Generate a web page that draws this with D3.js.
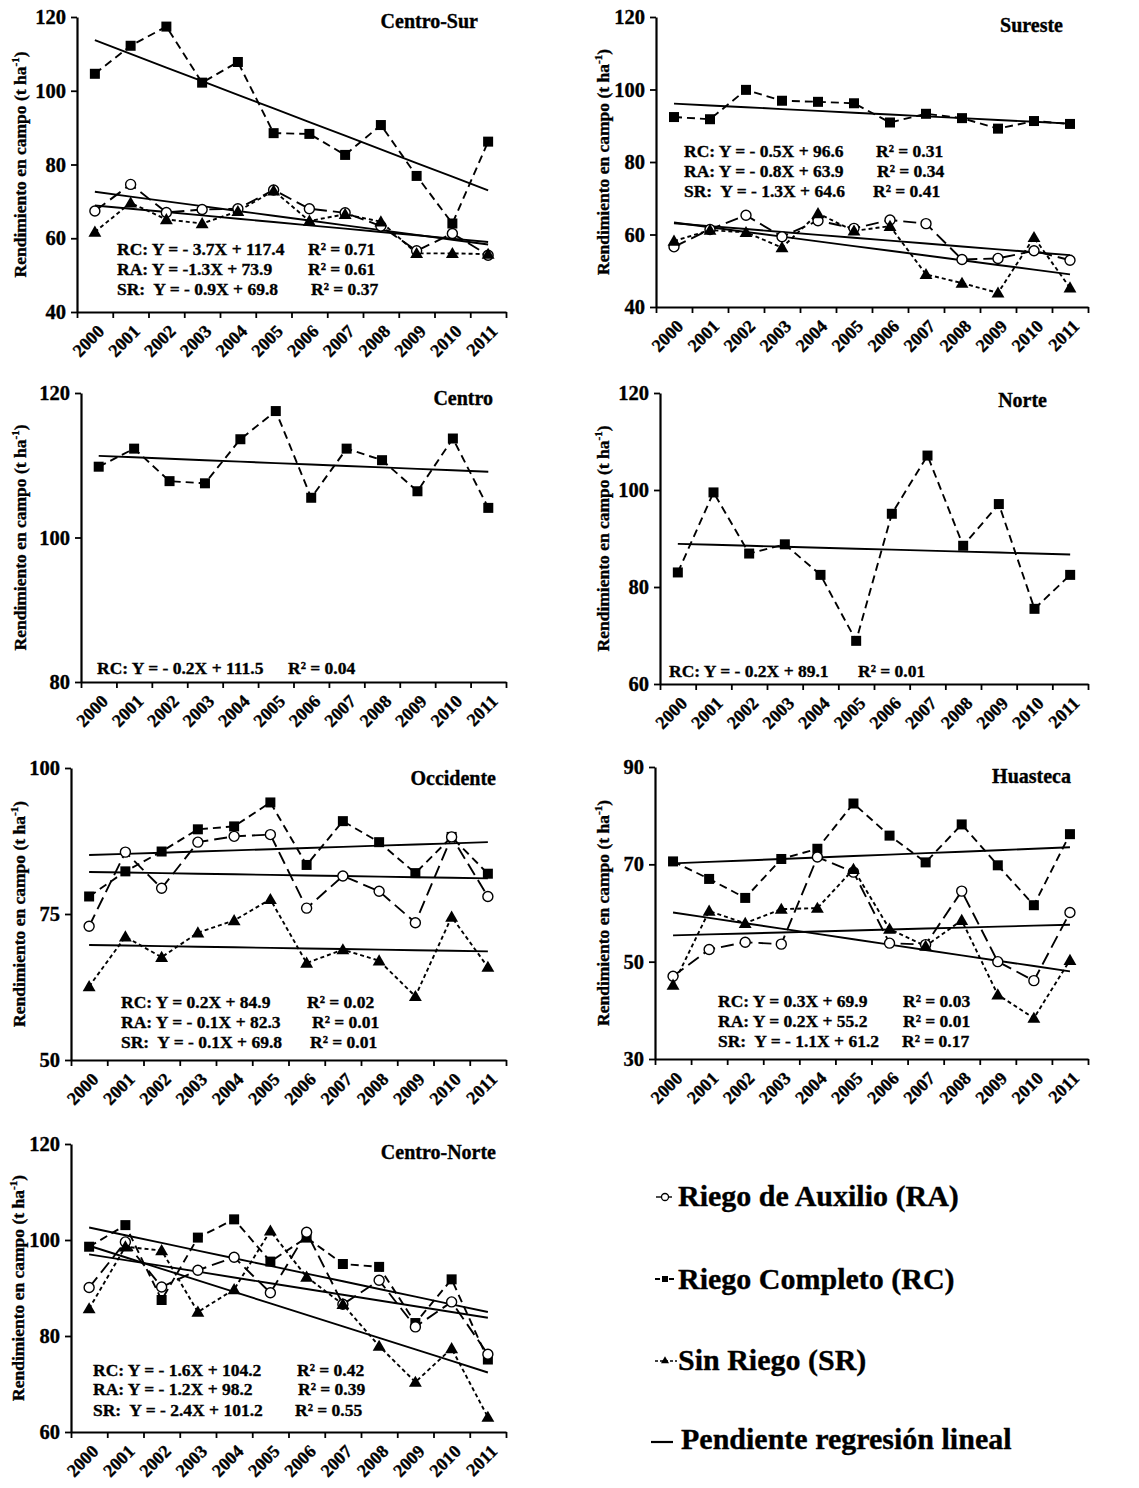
<!DOCTYPE html>
<html><head><meta charset="utf-8">
<script src="https://cdn.jsdelivr.net/npm/d3@7"></script>
<style>
body{margin:0;background:#fff}
svg text{font-family:"Liberation Serif","Times New Roman",serif;font-weight:bold;fill:#000;stroke:#000;stroke-width:0.35px}
</style></head><body>
<svg id="c" width="1139" height="1488"></svg>
<script>
const years = ["2000","2001","2002","2003","2004","2005","2006","2007","2008","2009","2010","2011"];
const regions = ["Centro-Sur","Sureste","Centro","Norte","Occidente","Huasteca","Centro-Norte"];

// Riego Completo (RC)
const rcCentroSur   = [104.6,112.2,117.4,102.2,107.8,88.5,88.3,82.6,90.7,76.9,64.0,86.2];
const rcSureste     = [92.4,91.8,99.9,96.9,96.6,96.2,90.9,93.3,92.1,89.2,91.3,90.5];
const rcCentro      = [109.8,112.3,107.8,107.5,113.6,117.5,105.5,112.3,110.7,106.4,113.7,104.1];
const rcNorte       = [83.0,99.5,86.9,88.8,82.5,68.9,95.1,107.1,88.5,97.1,75.5,82.5];
const rcOccidente   = [78.0,82.3,85.7,89.5,90.0,94.1,83.4,90.9,87.3,82.0,88.2,81.9];
const rcHuasteca    = [70.6,67.0,63.1,71.1,73.2,82.5,75.9,70.4,78.2,69.8,61.6,76.2];
const rcCentroNorte = [98.6,103.1,87.5,100.5,104.3,95.5,100.5,95.0,94.4,82.7,91.8,75.1];
// Riego de Auxilio (RA)
const raCentroSur   = [67.4,74.6,67.0,67.8,68.0,73.1,68.0,66.9,63.3,56.6,61.3,55.4];
const raSureste     = [56.6,61.4,65.3,59.4,63.8,61.7,64.0,63.0,53.1,53.4,55.5,52.9];
const raOccidente   = [72.9,85.6,79.4,87.3,88.3,88.6,76.0,81.5,78.9,73.5,88.2,78.0];
const raHuasteca    = [47.0,52.5,54.0,53.6,71.5,68.4,53.8,53.5,64.5,50.0,46.1,60.1];
const raCentroNorte = [90.1,99.6,90.2,93.7,96.4,89.0,101.6,86.6,91.6,81.9,87.1,76.2];
// Sin Riego (SR)
const srCentroSur   = [61.7,69.6,65.1,64.0,67.3,72.9,64.7,66.5,64.5,55.9,55.9,55.7];
const srSureste     = [58.2,61.2,60.6,56.4,65.8,61.0,62.3,49.0,46.6,43.9,59.2,45.3];
const srOccidente   = [62.6,71.1,67.6,71.8,73.9,77.5,66.6,68.9,67.0,60.9,74.5,65.9];
const srHuasteca    = [45.2,60.4,57.9,60.8,61.0,69.0,56.7,53.2,58.5,43.2,38.4,50.3];
const srCentroNorte = [85.7,98.6,97.8,85.0,89.7,101.9,92.3,86.6,77.9,70.4,77.4,63.1];

// regression coefficients [slope, intercept] (X = 1..12)
const fitCentroSur   = {RC:[-3.7,117.4], RA:[-1.3,73.9], SR:[-0.9,69.8]};
const fitSureste     = {RC:[-0.5,96.6],  RA:[-0.8,63.9], SR:[-1.3,64.6]};
const fitCentro      = {RC:[-0.2,111.5]};
const fitNorte       = {RC:[-0.2,89.1]};
const fitOccidente   = {RC:[0.2,84.9],   RA:[-0.1,82.3], SR:[-0.1,69.8]};
const fitHuasteca    = {RC:[0.3,69.9],   RA:[0.2,55.2],  SR:[-1.1,61.2]};
const fitCentroNorte = {RC:[-1.6,104.2], RA:[-1.2,98.2], SR:[-2.4,101.2]};

// equation labels
const eqCentroSur   = [["RC: Y = - 3.7X + 117.4","R² = 0.71"],["RA: Y = -1.3X + 73.9","R² = 0.61"],["SR:  Y = - 0.9X + 69.8","R² = 0.37"]];
const eqSureste     = [["RC: Y = - 0.5X + 96.6","R² = 0.31"],["RA: Y = - 0.8X + 63.9","R² = 0.34"],["SR:  Y = - 1.3X + 64.6","R² = 0.41"]];
const eqCentro      = [["RC: Y = - 0.2X + 111.5","R² = 0.04"]];
const eqNorte       = [["RC: Y = - 0.2X + 89.1","R² = 0.01"]];
const eqOccidente   = [["RC: Y = 0.2X + 84.9","R² = 0.02"],["RA: Y = - 0.1X + 82.3","R² = 0.01"],["SR:  Y = - 0.1X + 69.8","R² = 0.01"]];
const eqHuasteca    = [["RC: Y = 0.3X + 69.9","R² = 0.03"],["RA: Y = 0.2X + 55.2","R² = 0.01"],["SR:  Y = - 1.1X + 61.2","R² = 0.17"]];
const eqCentroNorte = [["RC: Y = - 1.6X + 104.2","R² = 0.42"],["RA: Y = - 1.2X + 98.2","R² = 0.39"],["SR:  Y = - 2.4X + 101.2","R² = 0.55"]];

// y tick labels
const ticksCentroSur   = [40,60,80,100,120];
const ticksSureste     = [40,60,80,100,120];
const ticksCentro      = [80,100,120];
const ticksNorte       = [60,80,100,120];
const ticksOccidente   = [50,75,100];
const ticksHuasteca    = [30,50,70,90];
const ticksCentroNorte = [60,80,100,120];

const legendLabels = ["Riego de Auxilio (RA)","Riego Completo (RC)","Sin Riego (SR)","Pendiente regresión lineal"];
const yTitle = "Rendimiento en campo (t ha";

const panels = [
 {rc:rcCentroSur, ra:raCentroSur, sr:srCentroSur, fit:fitCentroSur, eq:eqCentroSur, ticks:ticksCentroSur,
  box:{x0:77,x1:506,y0:17,y1:312}, title:[478,28], eqX:117, eqR:[308,308,311], eqY:[255,275,295], tx:20},
 {rc:rcSureste, ra:raSureste, sr:srSureste, fit:fitSureste, eq:eqSureste, ticks:ticksSureste,
  box:{x0:656,x1:1088,y0:17,y1:307}, title:[1063,32], eqX:684, eqR:[876,877,873], eqY:[157,177,197], tx:603},
 {rc:rcCentro, fit:fitCentro, eq:eqCentro, ticks:ticksCentro,
  box:{x0:81,x1:506,y0:393,y1:682}, title:[493,405], eqX:97, eqR:[288], eqY:[674], tx:20},
 {rc:rcNorte, fit:fitNorte, eq:eqNorte, ticks:ticksNorte,
  box:{x0:660,x1:1088,y0:393,y1:684}, title:[1047,407], eqX:669, eqR:[858], eqY:[677], tx:603},
 {rc:rcOccidente, ra:raOccidente, sr:srOccidente, fit:fitOccidente, eq:eqOccidente, ticks:ticksOccidente,
  box:{x0:71,x1:506,y0:768,y1:1060}, title:[496,785], eqX:121, eqR:[307,312,310], eqY:[1008,1028,1048], tx:19},
 {rc:rcHuasteca, ra:raHuasteca, sr:srHuasteca, fit:fitHuasteca, eq:eqHuasteca, ticks:ticksHuasteca,
  box:{x0:655,x1:1088,y0:767,y1:1059}, title:[1071,783], eqX:718, eqR:[903,903,902], eqY:[1007,1027,1047], tx:603},
 {rc:rcCentroNorte, ra:raCentroNorte, sr:srCentroNorte, fit:fitCentroNorte, eq:eqCentroNorte, ticks:ticksCentroNorte,
  box:{x0:71,x1:506,y0:1144,y1:1432}, title:[496,1159], eqX:93, eqR:[297,298,295], eqY:[1376,1395,1416], tx:18}
];

const svg = d3.select("#c");
const tri = d3.symbol().type(d3.symbolTriangle).size(72);

panels.forEach((p, k) => {
  const b = p.box;
  const g = svg.append("g");
  const x = d3.scaleBand().domain(years).range([b.x0, b.x1]);
  const xl = d3.scaleLinear().domain([0, years.length]).range([b.x0, b.x1]);
  const y = d3.scaleLinear().domain(d3.extent(p.ticks)).range([b.y1, b.y0]);
  const cx = (i) => x(years[i]) + x.bandwidth() / 2;

  // y axis
  const ya = g.append("g").attr("transform", `translate(${b.x0},0)`)
    .call(d3.axisLeft(y).tickValues(p.ticks).tickSize(6).tickSizeOuter(0).tickPadding(5));
  ya.select(".domain").attr("stroke-width", 2.2);
  ya.selectAll(".tick line").attr("stroke-width", 1.8);
  ya.selectAll(".tick text").style("font-size", "20.5px").attr("font-family", null).attr("fill", null);

  // x axis with boundary ticks
  const xa = g.append("g").attr("transform", `translate(0,${b.y1})`)
    .call(d3.axisBottom(xl).tickValues(d3.range(years.length + 1)).tickFormat("").tickSize(6).tickSizeOuter(0));
  xa.select(".domain").attr("stroke-width", 2.2);
  xa.selectAll(".tick line").attr("stroke-width", 1.8);
  const xb = g.append("g").attr("transform", `translate(0,${b.y1})`)
    .call(d3.axisBottom(x).tickSize(0));
  xb.select(".domain").remove();
  xb.selectAll(".tick text")
    .attr("x", 0).attr("y", 0).attr("dy", "0.35em")
    .attr("text-anchor", "end").attr("fill", null)
    .attr("transform", "translate(6,16) rotate(-45)")
    .style("font-size", "18px").attr("font-family", null);

  // y title
  const t = g.append("text")
    .attr("transform", `translate(${p.tx},${(b.y0 + b.y1) / 2}) rotate(-90)`)
    .attr("text-anchor", "middle").attr("dy", "0.35em")
    .style("font-size", "17.5px");
  t.append("tspan").text(yTitle);
  t.append("tspan").text("-1").style("font-size", "11px").attr("dy", "-7");
  t.append("tspan").text(")").attr("dy", "7");

  // panel title
  g.append("text").attr("x", p.title[0]).attr("y", p.title[1])
    .attr("text-anchor", "end").style("font-size", "20px").text(regions[k]);

  // regression lines
  const regLine = d3.line().x((d, i) => cx(i)).y(d => y(d));
  Object.keys(p.fit).forEach(key => {
    const [m, c] = p.fit[key];
    const vals = years.map((yr, i) => m * (i + 1) + c);
    g.append("path").attr("d", regLine(vals)).attr("fill", "none")
      .attr("stroke", "#000").attr("stroke-width", 1.9);
  });

  const line = d3.line().x((d, i) => cx(i)).y(d => y(d));
  if (p.ra) {
    g.append("path").attr("d", line(p.ra)).attr("fill", "none").attr("stroke", "#000")
      .attr("stroke-width", 1.9).attr("stroke-dasharray", "13,6");
  }
  if (p.sr) {
    g.append("path").attr("d", line(p.sr)).attr("fill", "none").attr("stroke", "#000")
      .attr("stroke-width", 1.9).attr("stroke-dasharray", "4,3");
  }
  g.append("path").attr("d", line(p.rc)).attr("fill", "none").attr("stroke", "#000")
    .attr("stroke-width", 1.9).attr("stroke-dasharray", "8,5");

  // markers
  g.selectAll(".sq").data(p.rc).join("rect")
    .attr("x", (d, i) => cx(i) - 5).attr("y", d => y(d) - 5)
    .attr("width", 10).attr("height", 10).attr("fill", "#000");
  if (p.ra) {
    g.selectAll(".ci").data(p.ra).join("circle")
      .attr("cx", (d, i) => cx(i)).attr("cy", d => y(d)).attr("r", 5)
      .attr("fill", "#fff").attr("stroke", "#000").attr("stroke-width", 1.4);
  }
  if (p.sr) {
    g.selectAll(".tr").data(p.sr).join("path")
      .attr("d", tri).attr("transform", (d, i) => `translate(${cx(i)},${y(d) + 1})`)
      .attr("fill", "#000");
  }

  // equations
  p.eq.forEach((e, i) => {
    g.append("text").attr("x", p.eqX).attr("y", p.eqY[i]).attr("xml:space", "preserve")
      .style("white-space", "pre").style("font-size", "17.5px").text(e[0]);
    g.append("text").attr("x", p.eqR[i]).attr("y", p.eqY[i]).style("font-size", "17.5px").text(e[1]);
  });
});

// legend
const lg = svg.append("g");
const ly = [1197, 1279, 1361, 1442];
const lb = [1206, 1289, 1370, 1449];
lg.append("line").attr("x1", 656).attr("x2", 672).attr("y1", ly[0]).attr("y2", ly[0]).attr("stroke", "#000").attr("stroke-width", 1.4);
lg.append("circle").attr("cx", 665).attr("cy", ly[0]).attr("r", 3.5).attr("fill", "#fff").attr("stroke", "#000").attr("stroke-width", 1.3);
lg.append("line").attr("x1", 655).attr("x2", 676).attr("y1", ly[1]).attr("y2", ly[1]).attr("stroke", "#000").attr("stroke-width", 1.8).attr("stroke-dasharray", "5,2");
lg.append("rect").attr("x", 662).attr("y", ly[1] - 3).attr("width", 6).attr("height", 6).attr("fill", "#000");
lg.append("line").attr("x1", 655).attr("x2", 677).attr("y1", ly[2]).attr("y2", ly[2]).attr("stroke", "#000").attr("stroke-width", 1.4).attr("stroke-dasharray", "3,2");
lg.append("path").attr("d", d3.symbol().type(d3.symbolTriangle).size(28)()).attr("transform", `translate(665,${ly[2]})`).attr("fill", "#000");
lg.append("line").attr("x1", 651).attr("x2", 673).attr("y1", ly[3]).attr("y2", ly[3]).attr("stroke", "#000").attr("stroke-width", 2.2);
legendLabels.forEach((s, i) => {
  lg.append("text").attr("x", i === 3 ? 681 : 678).attr("y", lb[i]).style("font-size", "30px").text(s);
});
</script>
</body></html>
